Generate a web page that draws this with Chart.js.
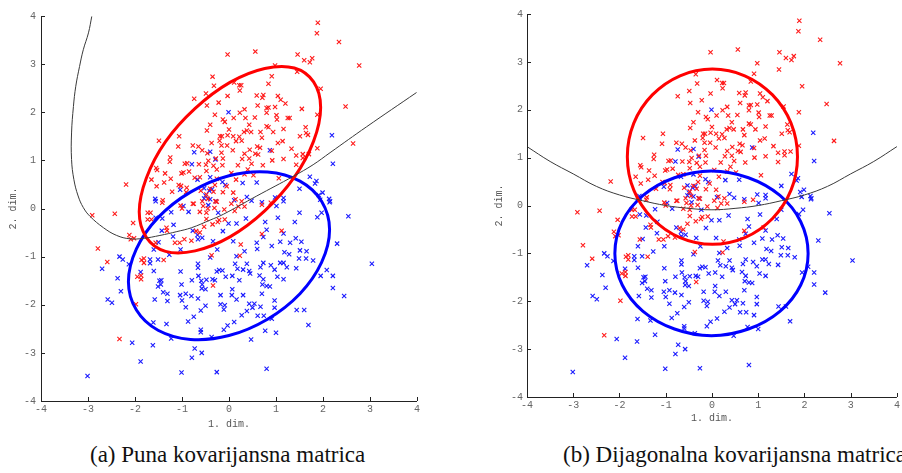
<!DOCTYPE html>
<html><head><meta charset="utf-8">
<script src="https://cdn.jsdelivr.net/npm/chart.js@4"></script>
<style>
body{margin:0;background:#fff;width:902px;height:473px;position:relative;overflow:hidden}
canvas{position:absolute;top:0}
#cl{left:0}
#cr{left:470px}
.cap{position:absolute;top:442px;font-family:'Liberation Serif',serif;font-size:23px;white-space:nowrap;color:#111}
</style></head><body>
<canvas id="cl" width="451" height="440" style="width:451px;height:440px"></canvas>
<canvas id="cr" width="432" height="440" style="width:432px;height:440px"></canvas>
<div class="cap" style="left:90px">(a) Puna kovarijansna matrica</div>
<div class="cap" style="left:563px">(b) Dijagonalna kovarijansna matrica</div>
<script>
// axis range / ticks
const axisMin = -4, axisMax = 4

// class 1 samples (red x)
const redPts = [
  [-2.19,0.50],[-0.74,2.28],[-0.35,2.74],[-0.32,2.55],[-0.49,2.39],[-0.47,2.14],[-0.30,1.95],[-0.40,1.74],[-0.47,1.62],[-1.06,1.50],
  [-1.49,1.41],[-1.08,1.29],[-0.77,1.31],[-0.65,1.29],[-0.57,1.21],[-0.37,1.36],[-0.46,1.15],[-1.25,1.06],[-1.26,0.97],[-1.55,0.84],
  [-1.53,0.80],[-0.94,0.93],[-0.89,0.94],[-0.64,0.92],[-0.44,0.99],[-0.33,0.89],[-1.36,0.73],[-1.01,0.73],[-0.97,0.75],[-0.85,0.77],
  [-0.73,0.64],[-0.62,0.65],[-1.65,0.60],[-1.38,0.54],[-1.24,0.62],[-1.07,0.49],[-1.02,0.47],[-0.90,0.43],[-1.54,0.46],[-1.21,0.35],
  [-0.91,0.34],[-0.60,0.37],[-0.40,0.41],[-0.33,0.35],[-1.42,0.12],[-0.77,0.10],[-0.57,0.15],[-0.26,0.14],
  [1.89,3.86],[1.87,3.64],[2.34,3.46],[-0.03,3.20],[0.56,3.26],[1.46,3.20],[1.60,3.08],[1.77,3.12],[1.72,3.04],[2.77,2.97],
  [0.98,2.97],[1.45,2.84],[0.91,2.75],[0.11,2.62],[0.22,2.56],[0.26,2.56],[0.84,2.59],[0.23,2.45],[1.95,2.49],[-0.03,2.34],
  [0.59,2.35],[0.73,2.36],[0.71,2.30],[1.04,2.34],[1.10,2.26],[-0.22,2.20],[0.61,2.14],[1.20,2.18],[0.80,2.09],[0.84,2.10],
  [0.98,2.11],[1.55,2.07],[2.48,2.12],[0.33,2.06],[0.23,1.99],[0.80,1.99],[1.01,1.94],[1.88,1.95],[0.10,1.88],[0.35,1.88],
  [0.55,1.89],[1.25,1.88],[1.29,1.88],[-0.13,1.85],[-0.09,1.80],[1.02,1.85],[0.43,1.74],[0.80,1.71],[0.84,1.69],[1.63,1.69],
  [0.00,1.64],[0.38,1.62],[0.67,1.59],[0.94,1.59],[1.16,1.65],[1.64,1.57],[1.68,1.53],[-0.19,1.50],[-0.15,1.50],[-0.03,1.52],
  [0.09,1.50],[0.22,1.49],[1.51,1.50],[0.32,1.59],[0.47,1.59],[-0.20,1.41],[0.15,1.40],[0.27,1.41],[0.70,1.47],[1.04,1.36],
  [1.14,1.40],[2.64,1.35],[-0.16,1.31],[-0.04,1.31],[0.60,1.29],[0.66,1.26],[1.88,1.25],[0.08,1.21],[0.44,1.22],[1.33,1.24],
  [0.91,1.20],[-0.16,1.16],[0.33,1.14],[0.56,1.14],[0.62,1.12],[1.57,1.13],[1.70,1.13],[1.43,1.10],[-0.28,1.04],[-0.13,1.04],
  [0.28,1.03],[0.43,1.04],[0.92,1.00],[1.16,1.03],[1.57,1.05],[-0.49,0.91],[-0.14,0.90],[0.19,0.90],[0.48,0.93],[0.72,0.90],
  [1.43,0.91],[-0.26,0.81],[-0.48,0.78],[0.05,0.74],[0.40,0.81],[0.33,0.71],[0.52,0.69],[1.06,0.63],[-0.26,0.62],[0.15,0.60],
  [-0.05,0.46],[-0.30,0.49],[-0.13,0.34],[0.09,0.33],[-0.48,0.29],[-0.45,0.20],[0.14,0.19],[0.27,0.15],[-0.29,0.15],[0.89,0.12],
  [0.70,0.08],[0.20,0.04],[0.33,0.04],
  [-2.91,-0.14],[-2.43,-0.11],[-2.04,-0.30],[-2.12,-0.55],[-2.09,-0.64],[-2.02,-0.62],[-2.79,-0.83],[-2.59,-1.11],[-1.86,-1.07],[-1.81,-1.04],
  [-1.81,-1.13],[-1.95,-1.42],[-1.87,-1.39],[-1.87,-1.47],[-1.98,-1.99],[-2.33,-2.71],[-1.73,-0.09],[-1.67,-0.09],[-1.73,-0.23],[-1.65,-0.23],
  [-1.33,-0.40],[-1.32,-0.46],[-1.41,0.17],[-1.03,0.06],[-1.00,0.00],[-0.75,0.10],[-1.56,-0.71],[-1.39,-1.07],[-1.15,-0.71],[-1.05,-0.71],
  [-0.95,-0.64],[-0.80,-0.67],[-0.70,-0.47],[-0.62,-0.50],[-0.53,-0.38],[-0.48,-0.22],[-0.35,-0.33],[-0.24,-0.28],[-0.62,-0.07],[-0.48,-0.09],
  [-0.31,0.01],[-0.34,-1.60],[1.12,-0.46],[0.70,-0.53],[0.25,-0.75],[0.23,-0.98],[-0.37,-0.97],[-0.21,-0.24],[-0.09,-0.23],
  [-0.55,0.05],[-0.45,0.00],[-0.10,-0.02],[0.05,0.10],[0.12,-0.05]
]

// class 2 samples (blue x)
const bluePts = [
  [-1.57,0.20],[-1.56,0.15],[-1.04,0.39],[-0.74,1.17],[-0.79,0.92],[-0.67,0.60],[-0.29,1.02],[-0.40,0.65],[-0.36,0.40],[-0.53,0.21],
  [-0.40,0.19],[-0.28,0.15],[-0.97,0.05],[-0.40,1.18],[-0.53,0.42],
  [-0.01,2.00],[2.19,1.52],[2.21,0.93],[0.87,1.21],[0.29,0.53],[0.59,0.54],[-0.14,0.55],[-0.08,0.49],[1.72,0.66],[1.86,0.57],
  [1.83,0.52],[1.50,0.41],[1.99,0.33],[1.91,0.28],[2.13,0.20],[2.15,0.15],[1.94,0.18],[0.38,0.24],[0.48,0.16],[0.98,0.23],
  [1.16,0.22],[1.16,0.15],[0.70,0.13],[0.11,0.17],[-0.50,0.27],[-0.42,0.37],[1.01,0.05],
  [-3.01,-3.48],[-1.88,-3.18],[-2.06,-2.79],[-1.62,-2.84],[-1.01,-3.41],[-0.79,-3.10],[-0.73,-2.91],[-0.58,-3.00],[-0.26,-3.40],[-0.37,-2.67],
  [-1.23,-2.70],[-1.33,-2.40],[-1.61,-2.37],[-2.33,-1.00],[-2.26,-1.06],[-2.70,-1.25],[-2.37,-1.45],[-2.30,-1.72],[-2.58,-1.89],[-2.49,-1.96],
  [-2.13,-1.16],[-1.88,-1.32],[-1.68,-1.06],[-1.51,-1.06],[-1.60,-1.30],[-1.68,-1.14],[-1.58,-1.89],[-1.48,-1.50],[-1.51,-1.62],[-1.44,-1.49],
  [-1.45,-1.58],[-1.40,-1.74],[-1.31,-1.77],[-1.31,-1.92],[-1.03,-1.31],[-1.01,-1.58],[-1.04,-1.80],[-1.00,-1.91],[-0.92,-2.05],[-0.92,-1.77],
  [-0.79,-1.49],[-0.80,-1.82],[-0.66,-1.87],[-0.87,-2.35],[-0.75,-2.25],[-0.60,-2.52],[-0.60,-2.57],[-0.60,-2.12],[-0.50,-2.02],[-0.66,-1.15],
  [-0.66,-1.23],[-0.65,-1.40],[-0.59,-1.50],[-0.57,-1.58],[-0.48,-1.48],[-0.58,-1.66],[-0.50,-1.68],[-0.40,-1.02],[-1.27,-0.96],[-1.03,-0.85],
  [-1.43,-0.46],[-1.50,-0.70],[-1.19,-0.58],[-1.60,-0.85],[-1.56,-0.19],[-1.42,-0.21],[-1.18,-0.34],[-1.23,-0.08],[-0.86,-0.07],[-0.77,-0.46],
  [-0.67,-0.55],[-0.66,-0.64],[-0.57,-0.61],[-0.44,0.07],[-0.34,-0.68],[-0.25,-0.85],
  [2.54,-0.16],[2.14,0.13],[1.88,-0.18],[1.97,-0.09],[2.30,-0.73],[3.04,-1.15],[2.08,-1.28],[2.21,-1.40],[1.95,-1.40],[2.21,-1.65],
  [2.45,-1.82],[1.79,-1.08],[1.64,-1.04],[1.65,-0.89],[1.51,-0.87],[1.49,-1.04],[1.43,-1.24],[1.54,-0.69],[1.42,-0.62],[1.40,-0.28],
  [1.50,-0.09],[1.30,-0.71],[1.18,-0.91],[1.23,-1.22],[1.28,-0.95],[1.16,-1.13],[1.09,-1.13],[0.97,-1.27],[0.89,-1.18],[0.73,-1.13],
  [0.67,-1.22],[1.03,-1.42],[1.16,-1.47],[0.73,-1.47],[0.65,-1.39],[0.80,-1.61],[0.87,-1.62],[0.71,-1.58],[0.43,-1.30],[0.45,-1.35],
  [0.38,-1.15],[0.30,-1.27],[0.18,-1.25],[0.13,-1.15],[0.22,-1.49],[0.07,-1.40],[0.07,-1.68],[-0.07,-1.42],[-0.21,-1.28],[-0.14,-1.29],
  [-0.26,-1.31],[-0.30,-1.49],[-0.35,-1.47],[-0.18,-1.80],[0.06,-1.80],[0.16,-1.89],[0.30,-1.80],[0.70,-1.77],[0.43,-1.98],[0.50,-2.06],
  [0.54,-1.98],[0.67,-2.04],[0.97,-1.91],[0.97,-2.06],[0.38,-2.13],[0.27,-2.22],[0.61,-2.23],[0.74,-2.23],[0.91,-2.29],[1.44,-2.11],
  [1.60,-2.11],[1.69,-2.42],[-0.18,-1.99],[-0.09,-2.01],[-0.11,-2.10],[0.11,-2.36],[-0.03,-2.43],[-0.11,-2.52],[0.77,-2.54],[1.00,-2.58],
  [0.47,-2.72],[0.80,-3.33],[0.09,-0.68],[0.33,-0.89],[0.16,-0.99],[0.59,-0.71],[0.60,-0.84],[0.73,-0.59],[0.80,-0.44],[0.77,-0.28],
  [1.04,-0.19],[1.16,-0.52],[1.09,-0.69],[0.91,-0.78],[0.36,-0.21],[0.16,-0.31],[-0.01,-0.31],[-0.13,-0.47],[-0.23,-0.09]
]

// (a) full covariance: contour outlines + decision boundary
const fullRedEll = [[1.95,2.10],[1.80,2.63],[1.39,2.92],[0.76,2.91],[0.02,2.62],[-0.72,2.08],[-1.35,1.39],[-1.76,0.63],
  [-1.91,-0.07],[-1.76,-0.60],[-1.35,-0.89],[-0.72,-0.88],[0.02,-0.59],[0.76,-0.05],[1.39,0.65],[1.80,1.40]]
const fullBlueEll = [[2.14,-0.44],[1.97,0.15],[1.51,0.57],[0.82,0.76],[0.00,0.68],[-0.82,0.34],[-1.51,-0.19],[-1.97,-0.84],
  [-2.14,-1.52],[-1.97,-2.11],[-1.51,-2.53],[-0.82,-2.72],[0.00,-2.64],[0.82,-2.30],[1.51,-1.77],[1.97,-1.12]]
const fullBoundary = [[-2.92,3.99],[-2.99,3.65],[-3.10,3.30],[-3.18,2.95],[-3.26,2.54],[-3.31,2.12],[-3.35,1.57],[-3.35,1.02],[-3.30,0.60],[-3.21,0.26],
  [-3.10,0.02],[-2.96,-0.16],[-2.67,-0.40],[-2.39,-0.56],[-2.11,-0.63],[-1.82,-0.62],[-1.47,-0.56],[-1.11,-0.48],[-0.80,-0.40],[-0.40,-0.24],
  [-0.12,-0.12],[0.59,0.26],[1.37,0.67],[1.79,0.91],[2.15,1.16],[2.93,1.70],[3.99,2.41]]

// (b) diagonal covariance
const diagRedEll = [[1.85,1.02],[1.71,1.72],[1.31,2.31],[0.71,2.71],[0.01,2.85],[-0.69,2.71],[-1.29,2.31],[-1.69,1.72],
  [-1.83,1.02],[-1.69,0.32],[-1.29,-0.27],[-0.69,-0.67],[0.01,-0.81],[0.71,-0.67],[1.31,-0.27],[1.71,0.32]]
const diagBlueEll = [[2.08,-1.00],[1.92,-0.34],[1.47,0.21],[0.79,0.58],[-0.01,0.72],[-0.81,0.58],[-1.49,0.21],[-1.94,-0.34],
  [-2.10,-1.00],[-1.94,-1.66],[-1.49,-2.21],[-0.81,-2.58],[-0.01,-2.72],[0.79,-2.58],[1.47,-2.21],[1.92,-1.66]]
const diagBoundary = [[-4.0,1.23],[-3.5,0.92],[-3.0,0.66],[-2.5,0.40],[-2.0,0.22],[-1.5,0.10],[-1.0,0.00],[-0.5,-0.06],[0.0,-0.09],
  [0.5,-0.06],[1.0,0.00],[1.5,0.10],[2.0,0.22],[2.5,0.40],[3.0,0.66],[3.5,0.92],[4.0,1.23]]

const tickFont = {family:'Liberation Mono', size:10}
const xy = a => a.map(p=>({x:p[0], y:p[1]}))

// closed smooth outline: wrap ends so every visible segment has both neighbours
function outline(pts, color){
  const n = pts.length
  return {
    data: xy([pts[n-1], ...pts, pts[0], pts[1]]),
    showLine:true, tension:0.35, borderColor:color, borderWidth:3, pointRadius:0, order:2,
    segment:{ borderColor: c => (c.p0DataIndex===0 || c.p0DataIndex===n+1) ? 'rgba(0,0,0,0)' : undefined }
  }
}
function marks(pts, color){
  return { data: xy(pts), pointStyle:'crossRot', pointRadius:3, pointBorderWidth:1.1,
    borderColor:color, backgroundColor:color, showLine:false, order:3 }
}

// axis lines + inward tick marks (box off, like the original figure)
const axesPlugin = {
  id:'axesIn',
  afterDraw(chart){
    const {ctx, chartArea:a, scales:{x,y}} = chart
    ctx.save()
    ctx.strokeStyle = '#222'; ctx.lineWidth = 1
    ctx.beginPath()
    ctx.moveTo(a.left+0.5, a.top); ctx.lineTo(a.left+0.5, a.bottom+0.5); ctx.lineTo(a.right, a.bottom+0.5)
    x.ticks.forEach(t=>{ const px = Math.round(x.getPixelForValue(t.value))+0.5; ctx.moveTo(px, a.bottom); ctx.lineTo(px, a.bottom-4) })
    y.ticks.forEach(t=>{ const py = Math.round(y.getPixelForValue(t.value))+0.5; ctx.moveTo(a.left, py); ctx.lineTo(a.left+4, py) })
    ctx.stroke()
    ctx.restore()
  }
}

function makeChart(id, redEll, blueEll, boundary, g){
  new Chart(document.getElementById(id), {
    type:'scatter',
    data:{ datasets:[
      { data: xy(boundary), showLine:true, tension:0.4, borderColor:'#3a3a3a', borderWidth:1, pointRadius:0, order:1 },
      outline(redEll, '#ff0000'),
      outline(blueEll, '#0000ff'),
      marks(redPts, '#ff1a1a'),
      marks(bluePts, '#1a1aff')
    ]},
    options:{
      responsive:false, animation:false, devicePixelRatio:1,
      layout:{ padding:{ top:g.top, right:g.right, left:0, bottom:0 } },
      plugins:{ legend:{display:false}, tooltip:{enabled:false} },
      scales:{
        x:{ type:'linear', min:axisMin, max:axisMax, afterFit: s=>{ s.height = g.xh },
          grid:{display:false, drawTicks:false}, border:{display:false},
          ticks:{ stepSize:1, padding:2, color:'#666', font:tickFont, maxRotation:0 },
          title:{ display:true, text:'1. dim.', color:'#555', font:tickFont, padding:{top:0, bottom:g.xt} } },
        y:{ type:'linear', min:axisMin, max:axisMax, afterFit: s=>{ s.width = g.yw },
          grid:{display:false, drawTicks:false}, border:{display:false},
          ticks:{ stepSize:1, padding:g.yp, color:'#666', font:tickFont },
          title:{ display:true, text:'2. dim.', color:'#555', font:tickFont, padding:{top:g.yt, bottom:0} } }
      }
    },
    plugins:[axesPlugin]
  })
}

makeChart('cl', fullRedEll, fullBlueEll, fullBoundary, {top:16, right:34, xh:39, yw:41, xt:10, yt:7, yp:5})
makeChart('cr', diagRedEll, diagBlueEll, diagBoundary, {top:14, right:2, xh:43, yw:57, xt:16, yt:23, yp:4})
</script>
</body></html>
